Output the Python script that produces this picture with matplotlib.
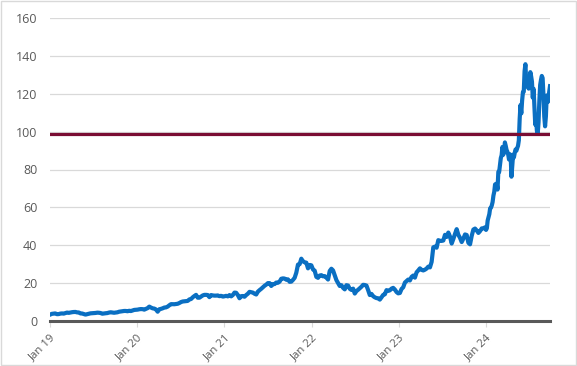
import matplotlib
matplotlib.use('Agg')
import matplotlib.pyplot as plt
import matplotlib.dates as mdates
import pandas as pd
import numpy as np

# weekly closes (split adjusted), one list per year
p2019 = [3.40, 3.78, 3.87, 4.00,
         3.60, 3.65, 3.90, 4.00,
         3.90, 4.15, 4.45, 4.30, 4.49,
         4.65, 4.75, 4.78, 4.55,
         4.50, 4.00, 3.95, 3.70, 3.39,
         3.60, 3.80, 4.05, 4.10,
         4.15, 4.25, 4.40, 4.35,
         4.20, 3.85, 4.00, 4.10, 4.19,
         4.45, 4.60, 4.45, 4.35,
         4.45, 4.60, 4.90, 5.05,
         5.25, 5.30, 5.30, 5.15, 5.40,
         5.25, 5.55, 5.85, 5.90]
p2020 = [6.00, 6.20, 6.30, 6.25, 6.00,
         6.40, 6.80, 7.60, 7.10, 6.70,
         6.55, 6.10, 4.90, 6.20,
         6.40, 6.70, 7.10, 7.20,
         7.60, 8.30, 8.90, 8.90,
         8.85, 9.00, 9.10, 9.50,
         10.00, 10.30, 10.40, 10.50, 10.60,
         11.40, 11.60, 12.50, 13.20,
         13.80, 12.30, 12.30, 12.90, 13.50,
         13.80, 13.80, 13.70, 12.60,
         13.70, 13.50, 13.40, 13.40,
         13.50, 13.10, 13.30, 12.90]
p2021 = [13.05, 13.30, 13.00, 13.70, 13.00,
         13.70, 15.00, 14.90, 13.70,
         12.00, 13.10, 13.20, 12.80,
         13.70, 14.40, 15.40, 15.20, 15.00,
         14.40, 14.00, 15.50, 16.30,
         17.00, 17.80, 18.60, 19.20,
         20.00, 20.00, 18.50, 19.50, 19.50,
         20.30, 20.20, 20.80, 22.30,
         22.50, 22.40, 21.80, 22.00, 20.70,
         20.80, 21.70, 22.80, 25.50,
         29.80, 30.00, 32.90, 31.50,
         31.00, 30.80, 27.80, 29.60, 29.40]
p2022 = [27.20, 26.60, 23.30, 22.80,
         24.00, 24.20, 23.60, 23.70,
         22.90, 21.90, 26.40, 27.60,
         26.70, 24.20, 21.60, 20.10, 18.50,
         18.90, 17.50, 16.70, 18.90,
         18.70, 17.00, 16.40, 17.10,
         14.50, 15.80, 16.50, 17.30, 18.10,
         19.10, 19.00, 18.70, 16.30,
         13.70, 14.30, 13.10, 12.50, 12.10,
         12.00, 11.30, 12.50, 13.80,
         14.10, 16.30, 15.90, 16.20,
         17.10, 17.50, 16.60, 15.30, 14.60]
p2023 = [14.80, 16.90, 17.80, 20.30,
         21.10, 21.90, 21.40, 23.30,
         24.00, 22.90, 25.70, 26.70, 27.80,
         27.00, 26.70, 27.10, 27.70,
         28.70, 28.30, 31.20, 38.90,
         39.30, 38.70, 42.70, 42.30, 42.30,
         42.50, 45.50, 44.40, 46.70,
         44.60, 40.90, 43.30, 46.00,
         48.50, 45.50, 43.90, 41.70, 43.50,
         45.70, 45.40, 41.30, 40.50,
         45.00, 48.30, 48.80, 47.80,
         46.50, 47.50, 48.90, 48.90, 49.50]
# 2024 twice a week
p2024 = [48.1, 49.0, 53.1, 54.7, 56.4, 59.5, 59.8, 61.0, 62.8,
         66.2, 68.2, 72.1, 72.1, 72.6, 69.4, 78.8, 78.7,
         82.3, 86.0, 87.5, 91.9, 87.8, 89.4, 94.3, 92.5, 90.4,
         89.4, 88.0, 85.3, 88.1, 87.4, 76.2, 82.4, 87.8, 86.4,
         88.8, 90.6, 89.9, 91.3, 92.5, 95.4, 106.5, 114.0, 109.6,
         116.4, 120.9, 121.0, 131.9, 135.6, 126.6, 126.1, 123.5,
         122.7, 125.8, 131.4, 129.2, 126.4, 117.9, 122.6, 113.1, 103.7,
         107.3, 100.5, 98.9, 104.8, 116.1, 124.6, 127.3, 129.4, 128.3, 119.4,
         108.0, 102.8, 108.1, 119.1, 115.6, 116.0, 120.9, 124.0]

year_spans = [('2019-01-02', '2019-12-27', p2019),
              ('2020-01-03', '2020-12-25', p2020),
              ('2021-01-01', '2021-12-31', p2021),
              ('2022-01-07', '2022-12-30', p2022),
              ('2023-01-06', '2023-12-29', p2023),
              ('2024-01-02', '2024-09-26', p2024)]

target = 98.9
tick_years = [2019, 2020, 2021, 2022, 2023, 2024]

dates = []
prices = []
for start, end, vals in year_spans:
    dates.extend(pd.date_range(start, end, periods=len(vals)))
    prices.extend(vals)

plt.rcParams['font.family'] = ['Open Sans', 'DejaVu Sans']

fig = plt.figure(figsize=(5.77, 3.66), dpi=100)
ax = fig.add_axes([50 / 577, 45 / 366, 500 / 577, 303 / 366])

ax.plot(dates, prices, color='#0A6FC2', lw=3.0, solid_joinstyle='round', zorder=3)
ax.plot([dates[0], dates[-1]], [target, target], color='#7A0D33', lw=2.3, zorder=4)

ax.set_ylim(0, 160)
ax.set_xlim(pd.Timestamp('2019-01-01'), pd.Timestamp('2024-09-26'))
ax.set_yticks(np.arange(0, 161, 20))
ax.yaxis.grid(True, color='#D9D9D9', lw=0.9)
ax.set_axisbelow(True)

ax.set_xticks([pd.Timestamp(f'{y}-01-01') for y in tick_years])
ax.xaxis.set_major_formatter(mdates.DateFormatter('Jan %y'))
plt.setp(ax.get_xticklabels(), rotation=45, ha='right', rotation_mode='anchor')

for s in ['top', 'right', 'left']:
    ax.spines[s].set_visible(False)
ax.spines['bottom'].set_color('#595959')
ax.spines['bottom'].set_linewidth(2.2)
ax.spines['bottom'].set_zorder(5)

ax.tick_params(axis='y', length=0, pad=9, labelsize=9, labelcolor='#595959')
ax.tick_params(axis='x', length=4, width=0.8, color='#D9D9D9', pad=4,
               labelsize=8.2, labelcolor='#595959')

# chart border
fig.patches.append(plt.Rectangle((0.002, 0.003), 0.996, 0.994, transform=fig.transFigure,
                                 fill=False, edgecolor='#D9D9D9', lw=1))

fig.savefig('out.png', dpi=100)
